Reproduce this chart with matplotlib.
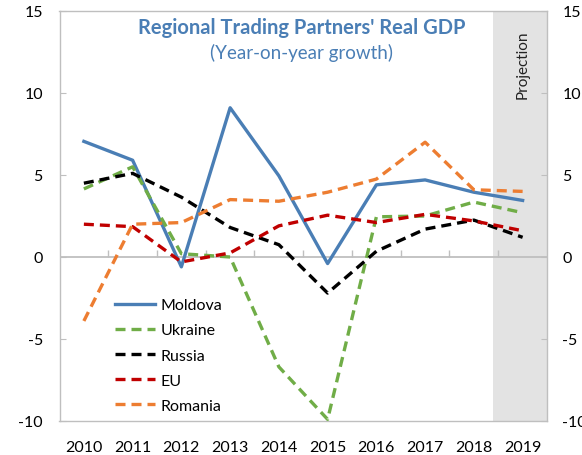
import numpy as np
import matplotlib
matplotlib.use('Agg')
import matplotlib.pyplot as plt

plt.rcParams['font.family'] = ['Lato', 'DejaVu Sans']

# data
years = [2010, 2011, 2012, 2013, 2014, 2015, 2016, 2017, 2018, 2019]
moldova = [7.05, 5.9, -0.6, 9.1, 4.95, -0.4, 4.4, 4.7, 3.95, 3.45]
ukraine = [4.15, 5.5, 0.2, 0.0, -6.7, -9.9, 2.45, 2.5, 3.35, 2.7]
russia = [4.5, 5.1, 3.65, 1.8, 0.75, -2.2, 0.35, 1.7, 2.25, 1.2]
eu = [2.0, 1.85, -0.3, 0.25, 1.9, 2.55, 2.1, 2.6, 2.2, 1.6]
romania = [-3.9, 2.0, 2.1, 3.5, 3.4, 3.95, 4.75, 7.0, 4.1, 4.0]

series = [
    ('Moldova', moldova, '#4a7eb5', '-'),
    ('Ukraine', ukraine, '#70ad47', (0, (3, 1.8))),
    ('Russia', russia, '#000000', (0, (3, 1.8))),
    ('EU', eu, '#c00000', (0, (3, 1.8))),
    ('Romania', romania, '#ed7d31', (0, (3, 1.8))),
]
proj_start = 2018.4

grey = '#bfbfbf'

fig = plt.figure(figsize=(5.82, 4.56), dpi=100)
ax = fig.add_axes([59.5 / 582, 1 - 422 / 456, (547 - 59.5) / 582, (422 - 12) / 456])

x = np.array(years)
ax.set_xlim(x[0] - 0.5, x[-1] + 0.5)
ax.set_ylim(-10, 15)

# projection shading
ax.axvspan(proj_start, x[-1] + 0.5, color='#e3e3e3', zorder=0, lw=0)
ax.text(x[-1], 13.9, 'Projection', rotation=90, ha='center', va='top', fontsize=11, color='#222222')

# zero line with category boundary ticks
ax.axhline(0, color=grey, lw=1.3, zorder=1)
ax.vlines(x[:-1] + 0.5, 0, 0.4, color=grey, lw=1.0, zorder=1)

for name, vals, col, ls in series:
    ax.plot(x, vals, color=col, linestyle=ls, lw=2.4, label=name, zorder=3)

for s in ax.spines.values():
    s.set_color(grey)
    s.set_linewidth(1.0)

ax.set_xticks(x)
ax.set_xticklabels([str(y) for y in years])
ax.tick_params(axis='x', length=0, pad=13.5, labelsize=11.5)
ax.set_yticks([-10, -5, 0, 5, 10, 15])
ax.set_yticklabels(['-10', '-5', '0', '5', '10', '15'])
ax.tick_params(axis='y', direction='in', length=4, color=grey, pad=12, labelsize=11.5)

ax2 = ax.twinx()
ax2.set_ylim(-10, 15)
ax2.set_yticks([-10, -5, 0, 5, 10, 15])
ax2.set_yticklabels(['-10', '-5', '0', '5', '10', '15'])
ax2.tick_params(axis='y', direction='in', length=4, color=grey, pad=11, labelsize=11.5)
for s in ax2.spines.values():
    s.set_visible(False)

ax.text(0.497, 0.985, "Regional Trading Partners' Real GDP", transform=ax.transAxes,
        ha='center', va='top', fontsize=14.5, fontweight='bold', color='#4a7eb5')
ax.text(0.497, 0.922, '(Year-on-year growth)', transform=ax.transAxes,
        ha='center', va='top', fontsize=13.5, color='#4a7eb5')

leg = ax.legend(loc='upper left', bbox_to_anchor=(0.1, 0.315), frameon=False,
                fontsize=11.5, handlelength=2.5, handletextpad=0.4, labelspacing=0.68,
                borderaxespad=0)

fig.savefig('out.png', dpi=100)
